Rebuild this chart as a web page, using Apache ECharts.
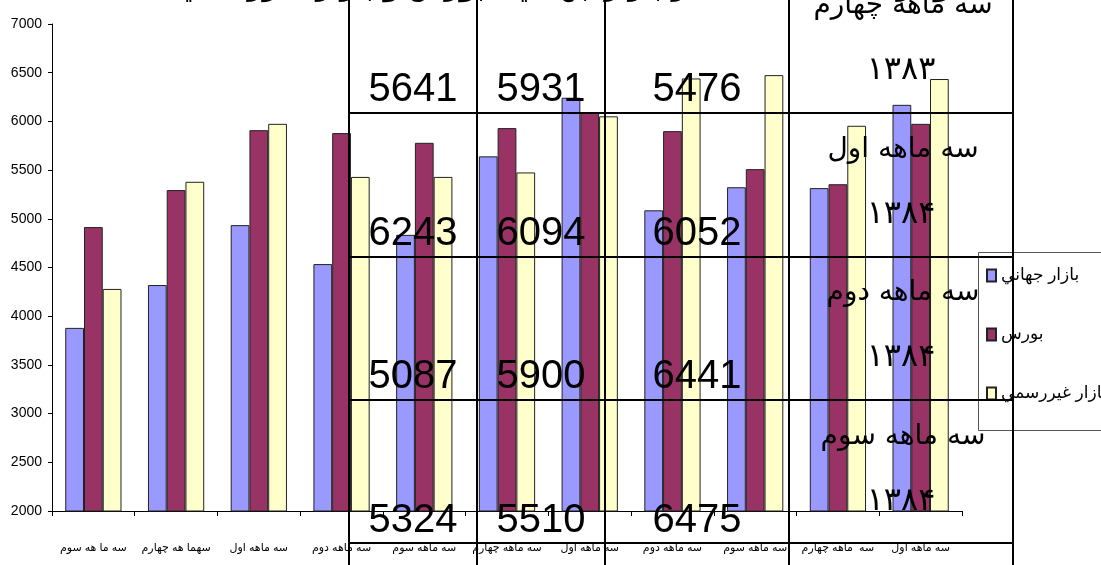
<!DOCTYPE html>
<html>
<head>
<meta charset="utf-8">
<script src="https://cdn.jsdelivr.net/npm/echarts@6/dist/echarts.min.js"></script>
<style>
html,body{margin:0;padding:0;background:#fff;}
#chart{width:1101px;height:565px;}
</style>
</head>
<body>
<div id="chart"></div>
<script>
// ---- data ----
const categories = ["سه ما هه سوم","سهما هه چهارم","سه ماهه اول","سه ماهه دوم","سه ماهه سوم","سه ماهه چهارم","سه ماهه اول","سه ماهه دوم","سه ماهه سوم","سه  ماهه چهارم","سه ماهه اول"];
const seriesNames = ["بازار جهاني","بورس","بازار غيررسمي"];
const bazarJahani = [3880, 4320, 4935, 4535, 4835, 5641, 6243, 5087, 5324, 5315, 6170];
const bourse = [4915, 5295, 5910, 5880, 5780, 5931, 6094, 5900, 5510, 5355, 5975];
const bazarGheyrRasmi = [4280, 5380, 5975, 5430, 5430, 5476, 6052, 6441, 6475, 5955, 6435];
const yMin = 2000, yMax = 7000, yStep = 500;
const tableQuarters = ["سه ماهه چهارم","سه ماهه اول","سه ماهه دوم","سه ماهه سوم"];
const tableYears = ["۱۳۸۳","۱۳۸۴","۱۳۸۴","۱۳۸۴"];
const tableFirstCategory = 5;
const titleText = "نمودار مقايسه قيمت در بازار جهاني ، بورس و بازار غيررسمي ۱۳۸۳ - ۱۳۸۴";

// ---- layout / style ----
const FONT = "'Liberation Sans', Arial, 'DejaVu Sans', sans-serif";
const colors = ["#9999FF", "#993366", "#FFFFCC"];
const colX = [349, 477, 605, 789, 1013];
const rowY = [113, 257, 400, 543];
const rowStep = 143.5;

const graphics = [];
// title (mostly cut off at top)
graphics.push({type:'text', z:100, style:{x:495, y:-11, text:titleText, fill:'#000',
  font:"bold 26px 'DejaVu Sans', sans-serif", textAlign:'center', textVerticalAlign:'middle'}});
// legend box
graphics.push({type:'rect', z:50, shape:{x:978.5, y:252.5, width:140, height:178},
  style:{fill:null, stroke:'#555', lineWidth:1}});
// table lines
colX.forEach(x => graphics.push({type:'line', z:100, shape:{x1:x, y1:0, x2:x, y2:565},
  style:{stroke:'#000', lineWidth:2}}));
rowY.forEach(y => graphics.push({type:'line', z:100, shape:{x1:colX[0], y1:y, x2:colX[4], y2:y},
  style:{stroke:'#000', lineWidth:2}}));
// table numbers from data
const seriesArrays = [bazarJahani, bourse, bazarGheyrRasmi];
for (let r = 0; r < 4; r++) {
  const idx = tableFirstCategory + r;
  const yNum = 90 + r * rowStep;
  for (let c = 0; c < 3; c++) {
    graphics.push({type:'text', z:101, style:{
      x:(colX[c] + colX[c+1]) / 2, y:yNum, text:String(seriesArrays[c][idx]),
      fill:'#000', font:"40px " + FONT, textAlign:'center', textVerticalAlign:'middle'}});
  }
  graphics.push({type:'text', z:101, style:{
    x:903, y:6 + r * rowStep, text:tableQuarters[r], fill:'#000',
    font:"28px 'DejaVu Sans', sans-serif", textAlign:'center', textVerticalAlign:'middle'}});
  graphics.push({type:'text', z:101, style:{
    x:901, y:71 + r * rowStep, text:tableYears[r], fill:'#000',
    font:"32px 'DejaVu Sans', sans-serif", textAlign:'center', textVerticalAlign:'middle'}});
}

const chart = echarts.init(document.getElementById('chart'), null, {renderer:'canvas'});
chart.setOption({
  animation: false,
  backgroundColor: '#fff',
  textStyle: {fontFamily: FONT},
  grid: {left: 52, right: 139, top: 24, bottom: 54, containLabel: false},
  legend: {
    orient: 'vertical', left: 986, top: 267, padding: 0,
    itemWidth: 9, itemHeight: 12, itemGap: 42,
    icon: 'rect',
    textStyle: {fontSize: 17, color: '#000', fontFamily: FONT},
    data: seriesNames
  },
  xAxis: {
    type: 'category', data: categories,
    axisLine: {show: true, lineStyle: {color: '#000', width: 1}},
    axisTick: {show: true, length: 5, lineStyle: {color: '#000'}},
    axisLabel: {color: '#000', fontSize: 11, margin: 31, interval: 0, fontFamily: FONT},
    splitLine: {show: false}
  },
  yAxis: {
    type: 'value', min: yMin, max: yMax, interval: yStep,
    axisLine: {show: true, lineStyle: {color: '#000', width: 1}},
    axisTick: {show: true, length: 4, lineStyle: {color: '#000'}},
    axisLabel: {color: '#000', fontSize: 14, margin: 10, fontFamily: FONT,
      formatter: v => String(v)},
    splitLine: {show: false}
  },
  series: seriesArrays.map((arr, i) => ({
    name: seriesNames[i], type: 'bar', data: arr,
    barGap: '0%', barCategoryGap: '32%',
    itemStyle: {color: colors[i], borderColor: '#222', borderWidth: 1}
  })),
  graphic: graphics
});
</script>
</body>
</html>
